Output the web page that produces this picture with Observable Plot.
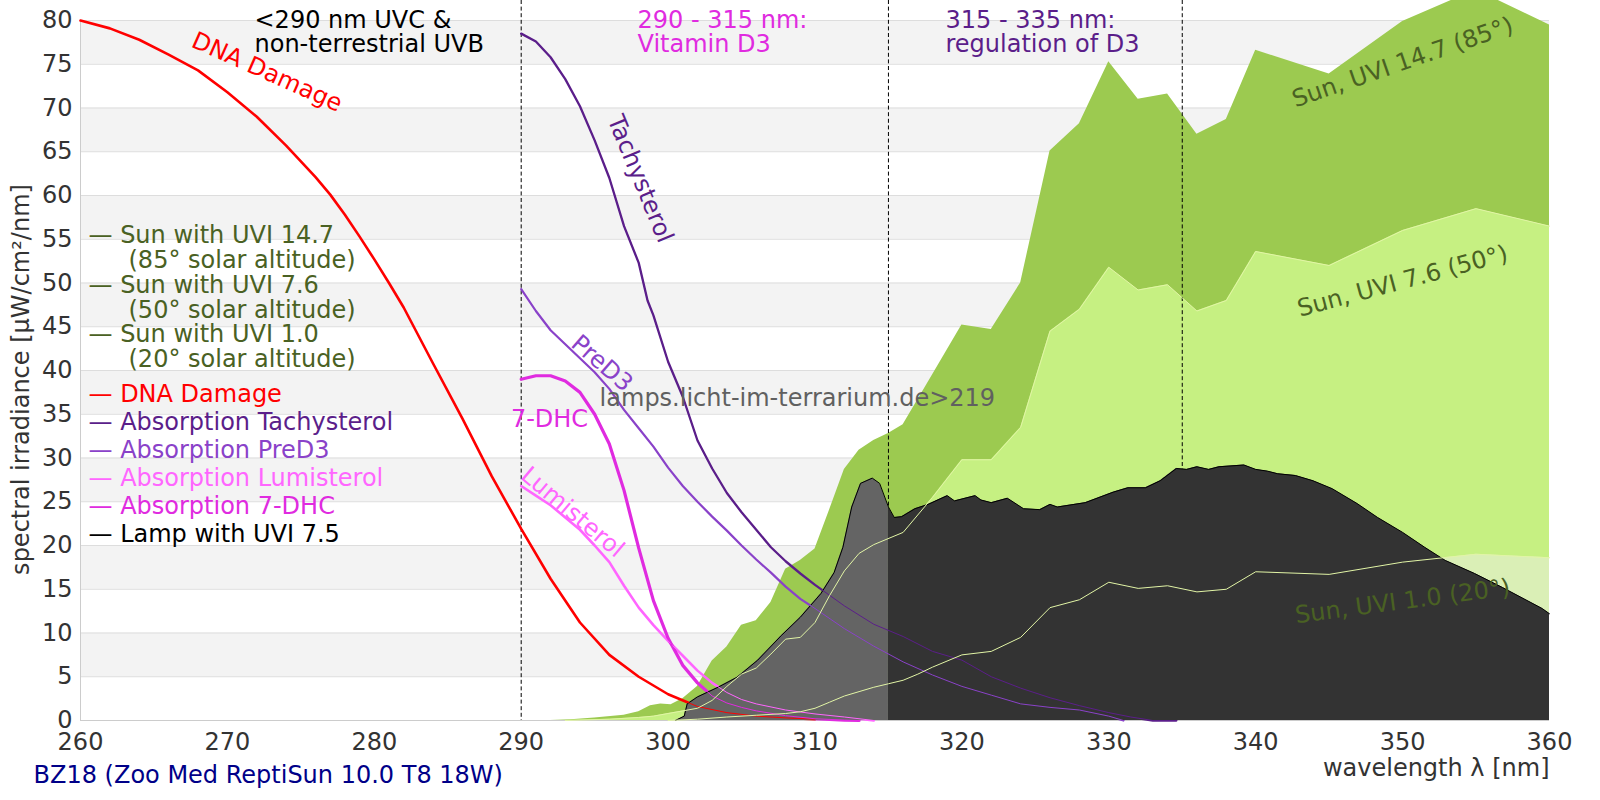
<!DOCTYPE html>
<html><head><meta charset="utf-8">
<script src="https://cdn.jsdelivr.net/npm/d3@7"></script>
<script src="https://cdn.jsdelivr.net/npm/@observablehq/plot@0.6"></script>
<style>body{margin:0;background:#fff;} svg{display:block}</style>
</head><body><div id="chart"></div>
<script>
// ---------- data ----------
const xTicks = [260, 270, 280, 290, 300, 310, 320, 330, 340, 350, 360];
const yTicks = [0, 5, 10, 15, 20, 25, 30, 35, 40, 45, 50, 55, 60, 65, 70, 75, 80];
const regionBounds = [290, 315, 335];

const sun147Nm  = [292, 293.4, 295, 297, 298, 298.8, 299.5, 300.2, 301, 302, 303, 304, 305, 306, 307, 308, 309, 310, 311, 312, 313, 314, 315, 316, 318, 320, 322, 324, 326, 328, 330, 332, 334, 336, 338, 340, 345, 350, 355, 360];
const sun147Val = [0, 0.1, 0.3, 0.6, 1.0, 1.7, 1.9, 1.8, 2.5, 3.9, 6.8, 8.4, 10.9, 11.4, 13.5, 17.3, 18.3, 19.6, 24.1, 28.7, 30.9, 32.0, 32.8, 33.8, 39.5, 45.2, 44.7, 50.0, 65.1, 68.2, 75.3, 71.0, 71.6, 67.0, 68.7, 76.6, 73.9, 79.9, 83.5, 79.5];

const sun76Nm  = [293, 294, 296, 298, 299, 300, 301, 302, 303, 304, 305, 306, 307, 308, 309, 310, 311, 312, 313, 314, 316, 318, 320, 322, 324, 326, 328, 330, 332, 334, 336, 338, 340, 345, 350, 355, 360];
const sun76Val = [0, 0.05, 0.15, 0.35, 0.5, 0.8, 1.1, 1.4, 2.3, 3.9, 5.3, 6.0, 7.6, 9.3, 9.5, 11.2, 14.3, 17.1, 19.1, 20.1, 21.5, 25.5, 29.8, 29.8, 33.5, 44.5, 47.0, 51.8, 49.2, 49.8, 46.8, 48.0, 53.6, 52.0, 56.0, 58.5, 56.5];

const sun10Nm  = [300, 302, 304, 306, 308, 309, 310, 311, 312, 313, 314, 315, 316, 317, 318, 320, 322, 324, 326, 328, 330, 332, 334, 336, 338, 340, 345, 350, 355, 360];
const sun10Val = [0, 0.15, 0.4, 0.6, 0.8, 1.0, 1.4, 2.1, 2.8, 3.3, 3.8, 4.2, 4.6, 5.3, 6.1, 7.5, 7.9, 9.5, 12.9, 13.8, 15.8, 15.1, 15.4, 14.7, 15.0, 17.0, 16.7, 18.1, 19.0, 18.6];

const lampNm  = [300.5, 301.1, 301.3, 302, 303.4, 304.7, 306.1, 307.7, 309, 310.4, 311.3, 311.9, 312.5, 313.1, 313.9, 314.4, 315, 315.4, 315.9, 316.8, 317.7, 319, 319.5, 320.9, 321.3, 322, 323.1, 324.2, 325.3, 326, 326.5, 328.4, 330.3, 331.3, 332.5, 333.5, 334.6, 335.3, 336, 336.8, 337.5, 339.2, 340, 340.8, 341.5, 342.7, 343.9, 345.2, 346.9, 348.3, 350, 351.5, 352.9, 354.9, 356.8, 359.5, 360];
const lampVal = [0, 0.5, 1.9, 2.7, 3.8, 4.95, 6.9, 9.7, 11.8, 14.5, 16.9, 19.8, 24.4, 27.1, 27.7, 27.1, 24.4, 23.2, 23.3, 24.2, 24.7, 25.7, 25.1, 25.7, 25.2, 24.9, 25.4, 24.2, 24.1, 24.7, 24.4, 24.9, 26.1, 26.6, 26.6, 27.4, 28.8, 28.7, 29.0, 28.7, 29.0, 29.2, 28.7, 28.5, 28.2, 28.0, 27.4, 26.5, 24.8, 23.2, 21.5, 19.8, 18.3, 16.8, 15.2, 12.8, 12.2];

const dnaNm  = [260, 262, 264, 266, 268, 270, 272, 274, 276, 277, 278, 279, 280, 281, 282, 284, 286, 288, 290, 292, 294, 296, 298, 300, 302, 304, 306, 308, 310];
const dnaVal = [80, 79.1, 77.8, 76.1, 74.3, 71.8, 69.0, 65.7, 62.1, 60.1, 57.8, 55.3, 52.7, 50.0, 47.2, 40.8, 34.5, 27.9, 21.9, 16.2, 11.2, 7.5, 5.0, 3.0, 1.6, 0.9, 0.5, 0.3, 0.15];

const tachyNm  = [290, 291, 292, 293, 294, 295, 296, 297, 298, 298.6, 299, 300, 301, 302, 303, 304, 305, 306, 307, 308, 309, 310, 312, 314, 316, 318, 320, 322, 324, 326, 328, 330, 331.5, 333, 334.6];
const tachyVal = [78.5, 77.6, 75.8, 73.3, 70.2, 66.3, 62.0, 56.5, 52.3, 48.0, 46.3, 41.0, 37.0, 32.0, 28.8, 26.0, 23.8, 21.8, 19.8, 18.2, 16.8, 15.5, 13.1, 11.0, 9.6, 7.9, 6.9, 5.0, 3.7, 2.6, 1.7, 0.9, 0.4, 0, 0];

const preD3Nm  = [290, 291, 292, 293, 294, 295, 296, 297, 298, 299, 300, 301, 302, 303, 304, 305, 306, 307, 308, 309, 310, 312, 314, 316, 318, 320, 322, 324, 326, 328, 330, 331];
const preD3Val = [49.3, 46.8, 44.6, 43.0, 41.4, 39.8, 37.9, 35.5, 33.4, 31.3, 28.9, 26.8, 25.0, 23.3, 21.7, 20.0, 18.4, 16.9, 15.3, 13.9, 12.8, 10.5, 8.5, 6.7, 5.2, 3.9, 2.9, 1.9, 1.5, 1.2, 0.5, 0];

const lumiNm  = [290, 291, 292, 293, 294, 295, 296, 297, 298, 299, 300, 301, 302, 303, 304, 305, 306, 308, 310, 312, 314];
const lumiVal = [26.8, 25.7, 24.6, 23.2, 21.8, 20.0, 18.1, 15.4, 12.9, 10.9, 9.1, 7.4, 5.7, 4.3, 3.2, 2.4, 1.9, 1.2, 0.75, 0.4, 0];

const dhcNm  = [290, 291, 292, 293, 294, 295, 296, 297, 298, 299, 300, 301, 302, 303, 304, 305, 306, 308, 310, 312, 313];
const dhcVal = [39.0, 39.4, 39.4, 38.8, 37.5, 35.0, 31.6, 26.3, 19.7, 13.7, 9.4, 6.3, 4.3, 2.8, 2.0, 1.5, 1.1, 0.55, 0.2, 0.05, 0];

const legendSeries = ["Sun with UVI 14.7", "Sun with UVI 7.6", "Sun with UVI 1.0", "DNA Damage", "Absorption Tachysterol", "Absorption PreD3", "Absorption Lumisterol", "Absorption 7-DHC", "Lamp with UVI 7.5"];
const legendNotes = ["(85° solar altitude)", "(50° solar altitude)", "(20° solar altitude)"];
const headerLine1 = ["<290 nm UVC &", "290 - 315 nm:", "315 - 335 nm:"];
const headerLine2 = ["non-terrestrial UVB", "Vitamin D3", "regulation of D3"];
const captionText = "BZ18 (Zoo Med ReptiSun 10.0 T8 18W)";
const yLabel = "spectral irradiance [µW/cm²/nm]";
const xLabel = "wavelength λ [nm]";
const watermark = "lamps.licht-im-terrarium.de>219";

// ---------- styling / layout ----------
const C = {
  sun: "#4a6123", dna: "#ff0000", tachy: "#5b1e8a", pre: "#8a42c9", lumi: "#ff66ff", dhc: "#e02be0", lamp: "#000000",
  g1: "#9cca50", g2: "#c6f082", g3: "#daefb6", pale: "#e2f5a6"
};
const legendColors = [C.sun, C.sun, C.sun, C.dna, C.tachy, C.pre, C.lumi, C.dhc, C.lamp];
const headerColors = ["#000000", C.dhc, C.tachy];
const headerX = [254, 637, 945];

const zip = (nm, v) => nm.map((x, i) => ({x, y: v[i]}));
const sun147 = zip(sun147Nm, sun147Val), sun76 = zip(sun76Nm, sun76Val), sun10 = zip(sun10Nm, sun10Val);
const lamp = zip(lampNm, lampVal);
const curves = [
  {d: zip(dnaNm, dnaVal), c: C.dna, w: 2.6},
  {d: zip(tachyNm, tachyVal), c: C.tachy, w: 2.3},
  {d: zip(preD3Nm, preD3Val), c: C.pre, w: 2.2},
  {d: zip(lumiNm, lumiVal), c: C.lumi, w: 2.6},
  {d: zip(dhcNm, dhcVal), c: C.dhc, w: 3.2}
];
const bandStarts = yTicks.filter((t, i) => i % 2 === 1 && t < 80);

const annotations = [
  {t: "DNA Damage", x: 272.7, y: 74.1, r: 24, c: C.dna},
  {t: "Tachysterol", x: 298.1, y: 61.9, r: 67.5, c: C.tachy},
  {t: "PreD3", x: 295.5, y: 40.8, r: 41, c: C.pre},
  {t: "Lumisterol", x: 293.5, y: 23.8, r: 40, c: C.lumi},
  {t: "Sun, UVI 14.7 (85°)", x: 350.0, y: 75.2, r: -19, c: C.sun},
  {t: "Sun, UVI 7.6 (50°)", x: 350.0, y: 50.2, r: -15, c: C.sun},
  {t: "Sun, UVI 1.0 (20°)", x: 350.0, y: 13.6, r: -7.5, c: C.sun}
];

const ML = 80, MT = 20;
const frameText = (text, px, py, o = {}) => Plot.text([text], {frameAnchor: "top-left", dx: px - ML, dy: py - MT, lineAnchor: "middle", textAnchor: "start", fontSize: 24, ...o});

const marks = [
  Plot.rect(bandStarts, {y1: d => d, y2: d => d + 5, fill: "#f3f3f3"}),
  Plot.gridY(yTicks, {stroke: "#dddddd", strokeOpacity: 1}),
  Plot.ruleX([260], {stroke: "#cccccc"}),
  Plot.ruleY([0], {stroke: "#cccccc"}),
  Plot.areaY(sun147, {x: "x", y: "y", fill: C.g1}),
  Plot.areaY(sun76, {x: "x", y: "y", fill: C.g2}),
  Plot.areaY(sun10, {x: "x", y: "y", fill: C.g3}),
  Plot.ruleX(regionBounds, {stroke: "black", strokeWidth: 1, strokeDasharray: "4,2.6", insetTop: -20}),
  ...curves.map(k => Plot.line(k.d, {x: "x", y: "y", stroke: k.c, strokeWidth: k.w})),
  Plot.areaY(lamp.filter(d => d.x <= 315), {x: "x", y: "y", fill: "#646464"}),
  Plot.areaY(lamp.filter(d => d.x >= 315), {x: "x", y: "y", fill: "#333333"}),
  Plot.line(lamp, {x: "x", y: "y", stroke: "black", strokeWidth: 1}),
  ...curves.map(k => Plot.line(k.d, {x: "x", y: "y", stroke: k.c, strokeWidth: 1})),
  Plot.line(sun76, {x: "x", y: "y", stroke: C.pale, strokeWidth: 1}),
  Plot.line(sun10, {x: "x", y: "y", stroke: C.pale, strokeWidth: 1}),
  ...annotations.map(a => Plot.text([a], {x: "x", y: "y", text: "t", rotate: a.r, fill: a.c, fontSize: 24})),
  Plot.text([watermark], {x: [308.8], y: [36.8], fill: "#606060", fontSize: 24}),
  Plot.text(["7-DHC"], {x: [289.3], y: [34.4], textAnchor: "start", fill: C.dhc, fontSize: 24}),
  Plot.axisX({ticks: xTicks, tickSize: 0, tickPadding: 12, fill: "#333", fontSize: 24, label: null}),
  Plot.axisY({ticks: yTicks, tickSize: 0, tickPadding: 8, fill: "#333", fontSize: 24, label: null}),
  ...headerLine1.map((h, i) => frameText(h, headerX[i], 19.5, {fill: headerColors[i]})),
  ...headerLine2.map((h, i) => frameText(h, headerX[i], 44, {fill: headerColors[i]})),
  ...legendSeries.map((s, i) => frameText("— " + s, 88, i < 3 ? 235 + i * 49.6 : 394 + (i - 3) * 28, {fill: legendColors[i]})),
  ...legendNotes.map((s, i) => frameText(s, 128, 259.8 + i * 49.6, {fill: C.sun})),
  frameText(yLabel, 21, 379, {rotate: -90, textAnchor: "middle", fill: "#333"}),
  Plot.text([xLabel], {frameAnchor: "bottom-right", dy: 48, lineAnchor: "middle", textAnchor: "end", fill: "#333", fontSize: 24}),
  Plot.text([captionText], {frameAnchor: "bottom-left", dx: -47, dy: 55, lineAnchor: "middle", textAnchor: "start", fill: "#000088", fontSize: 24})
];

const chart = Plot.plot({
  width: 1600, height: 800,
  marginLeft: ML, marginRight: 51, marginTop: MT, marginBottom: 80,
  x: {domain: [260, 360]},
  y: {domain: [0, 80]},
  style: {fontFamily: "DejaVu Sans", fontSize: "24px", background: "white", overflow: "hidden"},
  marks
});
document.getElementById("chart").appendChild(chart);
</script></body></html>
